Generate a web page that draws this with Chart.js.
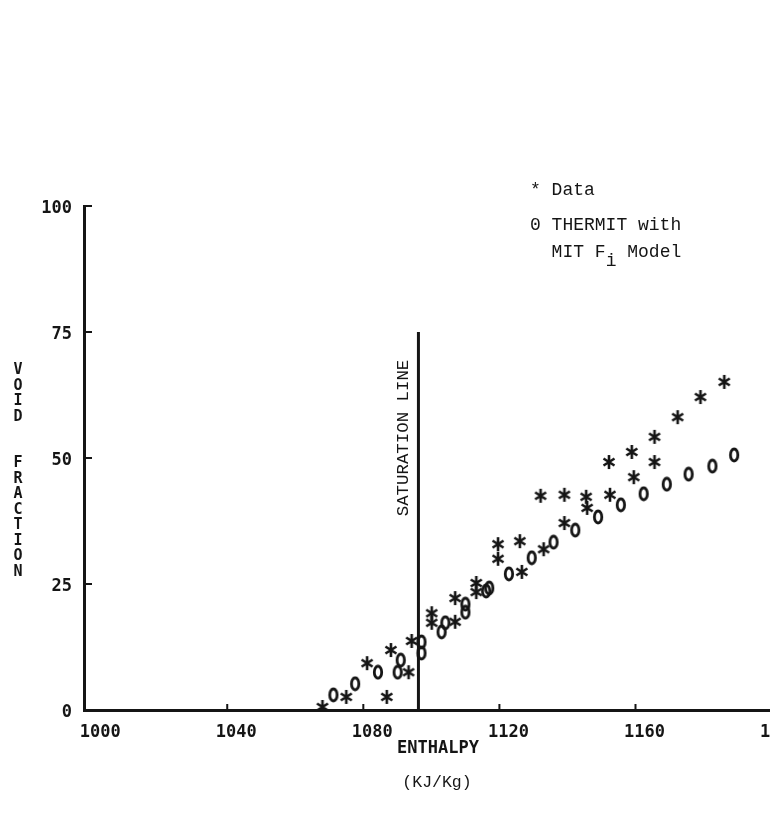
<!DOCTYPE html>
<html>
<head>
<meta charset="utf-8">
<title>Void fraction vs enthalpy</title>
<script src="https://cdn.jsdelivr.net/npm/chart.js@4.4.1/dist/chart.umd.min.js"></script>
<style>
  html, body { margin: 0; padding: 0; background: #fff; overflow: hidden; }
  #wrap { position: relative; width: 800px; height: 824px; }
  #voidChart { position: absolute; left: 0; top: 0; }
  .typed { position: absolute; font-family: "Liberation Mono", "Courier New", monospace; font-size: 18px; line-height: 18px; color: #151515; white-space: pre; }
  .typed sub { font-size: 18px; position: relative; top: 9px; vertical-align: baseline; }
  .stack { position: absolute; left: 8px; top: 362px; width: 20px; text-align: center;
           font-family: "DejaVu Sans Mono", monospace; font-weight: bold; font-size: 15px; line-height: 15.5px; color: #151515; }
  .satLabel { position: absolute; left: 324px; top: 429px; width: 160px; height: 18px; text-align: center;
              font-family: "Liberation Mono", "Courier New", monospace; font-size: 17.4px; line-height: 18px; color: #151515;
              white-space: pre; transform: rotate(-90deg); transform-origin: 50% 50%; }
</style>
</head>
<body>
<div id="wrap">
  <canvas id="voidChart" width="800" height="824"></canvas>
  <div class="stack">V<br>O<br>I<br>D<br><br><br>F<br>R<br>A<br>C<br>T<br>I<br>O<br>N</div>
  <div class="satLabel">SATURATION LINE</div>
  <div class="typed" style="left:530px; top:181px;">* Data</div>
  <div class="typed" style="left:530px; top:216px;">0 THERMIT with</div>
  <div class="typed" style="left:530px; top:243px;">  MIT F<sub>i</sub> Model</div>
  <div class="typed" style="left:387px; top:774px; width:100px; text-align:center; font-size:16.5px;">(KJ/Kg)</div>
</div>
<script>
// axis ticks
const xTicks = [1000, 1040, 1080, 1120, 1160, 1200];
const yTicks = [0, 25, 50, 75, 100];

// saturation line
const satEnthalpy = 1096.2;
const satVoidTop = 75;

// measured data (*)
const dataEnthalpy = [1068.0, 1075.0, 1081.1, 1086.9, 1088.1, 1093.3, 1094.2, 1100.1, 1100.1, 1107.0,
  1107.0, 1113.2, 1113.2, 1119.6, 1119.6, 1126.0, 1126.6, 1132.1, 1133.0, 1139.1,
  1139.1, 1145.5, 1145.8, 1152.2, 1152.5, 1158.9, 1159.5, 1165.6, 1165.6, 1172.4,
  1179.1, 1186.1];
const dataVoid = [0.6, 2.6, 9.3, 2.6, 11.9, 7.5, 13.7, 19.2, 17.3, 22.2,
  17.5, 25.2, 23.4, 32.9, 30.0, 33.5, 27.4, 42.5, 31.9, 42.7,
  37.1, 42.3, 40.1, 49.2, 42.7, 51.2, 46.2, 54.2, 49.2, 58.1,
  62.1, 65.1];

// THERMIT with MIT Fi model (0)
const thermitEnthalpy = [1071.2, 1077.6, 1084.3, 1090.1, 1091.0, 1097.1, 1097.1, 1103.0, 1104.1, 1110.0,
  1110.0, 1116.1, 1117.0, 1122.8, 1129.5, 1135.9, 1142.3, 1149.0, 1155.7, 1162.4,
  1169.2, 1175.6, 1182.6, 1189.0];
const thermitVoid = [3.0, 5.2, 7.5, 7.5, 9.9, 11.3, 13.5, 15.5, 17.3, 21.0,
  19.4, 23.6, 24.2, 27.0, 30.2, 33.3, 35.7, 38.3, 40.7, 42.9,
  44.8, 46.8, 48.4, 50.6];

const ink = '#151515';

function starMark() {
  const c = document.createElement('canvas');
  c.width = 14; c.height = 16;
  const g = c.getContext('2d');
  g.strokeStyle = ink;
  g.lineWidth = 2.6;
  g.beginPath();
  g.moveTo(7, 1); g.lineTo(7, 15);
  g.moveTo(1.5, 4.5); g.lineTo(12.5, 11.5);
  g.moveTo(1.5, 11.5); g.lineTo(12.5, 4.5);
  g.stroke();
  return c;
}

function zeroMark() {
  const c = document.createElement('canvas');
  c.width = 12; c.height = 16;
  const g = c.getContext('2d');
  g.strokeStyle = ink;
  g.lineWidth = 2.8;
  g.beginPath();
  g.ellipse(6, 8, 3.7, 6, 0, 0, Math.PI * 2);
  g.stroke();
  return c;
}

// small tick marks pointing into the plot
const innerTicks = {
  id: 'innerTicks',
  afterDatasetsDraw(chart) {
    const { ctx, chartArea: a } = chart;
    const x = chart.scales.x, y = chart.scales.y;
    ctx.save();
    ctx.strokeStyle = ink;
    ctx.lineWidth = 2;
    ctx.beginPath();
    yTicks.slice(1).forEach((v) => {
      const p = y.getPixelForValue(v);
      ctx.moveTo(a.left, p); ctx.lineTo(a.left + 8, p);
    });
    xTicks.slice(1, -1).forEach((v) => {
      const p = x.getPixelForValue(v);
      ctx.moveTo(p, a.bottom); ctx.lineTo(p, a.bottom - 6);
    });
    ctx.stroke();
    ctx.restore();
  }
};

const tickFont = { family: 'DejaVu Sans Mono', weight: 'bold', size: 17 };

new Chart(document.getElementById('voidChart'), {
  type: 'scatter',
  data: {
    datasets: [
      {
        label: 'Data',
        data: dataEnthalpy.map((h, i) => ({ x: h, y: dataVoid[i] })),
        pointStyle: starMark(),
        pointRadius: 7
      },
      {
        label: 'THERMIT with MIT Fi Model',
        data: thermitEnthalpy.map((h, i) => ({ x: h, y: thermitVoid[i] })),
        pointStyle: zeroMark(),
        pointRadius: 7
      },
      {
        type: 'line',
        label: 'Saturation line',
        data: [{ x: satEnthalpy, y: 0 }, { x: satEnthalpy, y: satVoidTop }],
        borderColor: ink,
        borderWidth: 3,
        pointRadius: 0
      }
    ]
  },
  options: {
    responsive: false,
    animation: false,
    layout: { padding: { top: 206, left: 0, right: 4, bottom: 0 } },
    plugins: {
      legend: { display: false },
      tooltip: { enabled: false }
    },
    scales: {
      x: {
        type: 'linear',
        min: 997.9,
        max: 1206,
        afterBuildTicks: (s) => { s.ticks = xTicks.map((v) => ({ value: v })); },
        afterFit: (s) => { s.height = 114; s.paddingLeft = 0; s.paddingRight = 0; },
        grid: { display: false, drawTicks: false },
        border: { display: true, color: ink, width: 3 },
        ticks: {
          font: tickFont, color: ink, padding: 12, labelOffset: 9, maxRotation: 0, autoSkip: false,
          callback: (v) => String(v)
        },
        title: {
          display: true,
          text: 'ENTHALPY',
          font: { family: 'DejaVu Sans Mono', weight: 'bold', size: 17 },
          color: ink,
          padding: { top: 0, bottom: 65 }
        }
      },
      y: {
        type: 'linear',
        min: 0,
        max: 100,
        afterBuildTicks: (s) => { s.ticks = yTicks.map((v) => ({ value: v })); },
        afterFit: (s) => { s.width = 84; },
        grid: { display: false, drawTicks: false },
        border: { display: true, color: ink, width: 3 },
        ticks: { font: tickFont, color: ink, padding: 12, labelOffset: 3, callback: (v) => String(v) }
      }
    }
  },
  plugins: [innerTicks]
});
</script>
</body>
</html>
